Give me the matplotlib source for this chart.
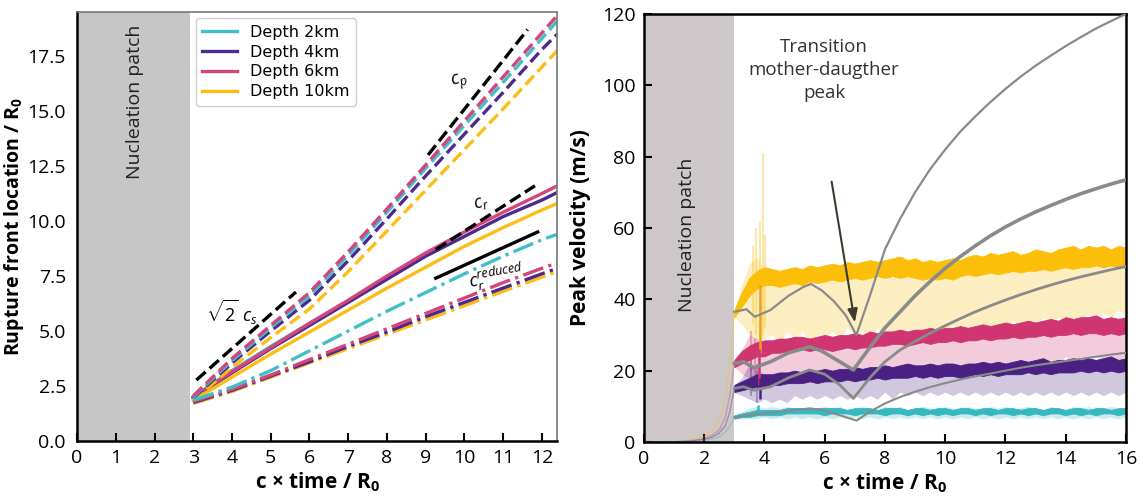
import numpy as np
import matplotlib
matplotlib.use("Agg")
import matplotlib.pyplot as plt

plt.rcParams['font.family'] = ['Open Sans', 'DejaVu Sans']
plt.rcParams['mathtext.fontset'] = 'custom'
plt.rcParams['mathtext.rm'] = 'Open Sans'
plt.rcParams['mathtext.it'] = 'Open Sans:italic'
plt.rcParams['mathtext.bf'] = 'Open Sans:bold'

# ---------------- Left panel data ----------------
depths = ["Depth 2km", "Depth 4km", "Depth 6km", "Depth 10km"]
x_front = [3, 4, 5, 6, 7, 8, 9, 10, 11, 12, 12.4]

# P-wave-like front (dashed)
cp_2km = [2.0, 3.65, 5.15, 6.6, 8.45, 10.4, 12.4, 14.35, 16.3, 18.3, 19.1]
cp_4km = [1.95, 3.55, 5.0, 6.4, 8.2, 10.1, 12.05, 13.95, 15.85, 17.8, 18.5]
cp_6km = [2.05, 3.75, 5.25, 6.75, 8.6, 10.55, 12.55, 14.55, 16.55, 18.55, 19.35]
cp_10km = [1.85, 3.35, 4.7, 6.0, 7.7, 9.55, 11.4, 13.25, 15.1, 17.0, 17.75]

# Rayleigh-like front (solid)
x_cr_2km = [3, 4, 5, 6, 7, 8]
cr_2km = [2.0, 3.2, 4.3, 5.35, 6.35, 7.4]
cr_4km = [1.95, 3.1, 4.2, 5.25, 6.3, 7.35, 8.4, 9.3, 10.2, 10.95, 11.3]
cr_6km = [2.0, 3.15, 4.25, 5.35, 6.4, 7.5, 8.55, 9.5, 10.4, 11.25, 11.6]
cr_10km = [1.85, 2.9, 3.95, 4.95, 5.95, 6.95, 7.9, 8.85, 9.7, 10.5, 10.8]

# reduced front (dash-dot)
red_2km = [1.85, 2.45, 3.2, 4.1, 5.0, 5.9, 6.75, 7.6, 8.4, 9.15, 9.4]
red_4km = [1.75, 2.3, 2.95, 3.6, 4.3, 4.95, 5.65, 6.3, 6.95, 7.6, 7.85]
red_6km = [1.8, 2.35, 3.0, 3.7, 4.4, 5.1, 5.8, 6.5, 7.2, 7.85, 8.1]
red_10km = [1.7, 2.25, 2.9, 3.55, 4.2, 4.85, 5.5, 6.15, 6.8, 7.45, 7.7]

# reference slopes (black)
ref_s2cs_x, ref_s2cs_y = [3.08, 5.65], [2.77, 6.77]
ref_cp_x, ref_cp_y = [9.06, 11.63], [13.0, 18.7]
ref_cr_x, ref_cr_y = [9.26, 11.82], [8.7, 11.6]
ref_red_x, ref_red_y = [9.26, 11.89], [7.4, 9.5]

# ---------------- Right panel data ----------------
x_band = np.arange(3.0, 16.001, 0.25)

yel_lo = [35, 38, 41, 43, 44, 44, 43.5, 44, 44.5, 44, 45, 44.5, 45,
          45.5, 45, 45.5, 46, 45.5, 46, 46.5, 46, 46.5, 46, 46.5, 46, 45.5,
          46, 45.5, 46, 45.5, 46.5, 47, 46.5, 47, 47.5, 47, 47.5, 48, 47.5,
          48, 48, 48.5, 48, 48.5, 49, 48.5, 49, 49, 49.5, 49, 49.5, 49, 49.5]
yel_hi = [37, 42, 46, 48, 49, 48.5, 48, 48.5, 49, 48.5, 49.5, 49, 49.5,
          50, 49.5, 50.5, 50, 50.5, 51, 50.5, 51, 51.5, 52, 51, 51.5, 50.5,
          51, 50.5, 51, 51.5, 51, 52, 52.5, 52, 53, 52.5, 53, 53.5, 52.5,
          53, 54, 53.5, 53, 54, 54.5, 55, 54, 55, 54.5, 55, 54, 55, 54.5]
pnk_lo = [21, 22, 23, 24, 24, 25, 25, 25.5, 25.5, 26, 25.5, 26, 26,
          25.5, 26, 26.5, 26, 26.5, 26.5, 27, 27, 27.5, 27.5, 27, 27.5, 28,
          27.5, 28, 28, 28.5, 28, 28.5, 28.5, 29, 28.5, 29, 29, 29.5, 29,
          29.5, 29.5, 30, 29.5, 30, 30, 30.5, 30, 30.5, 30.5, 30, 30.5, 30, 30.5]
pnk_hi = [23, 25.5, 27, 28, 28.5, 28.5, 29, 29, 29.5, 29.5, 29, 29.5, 30,
          29.5, 30, 30, 30.5, 30, 31, 30.5, 31, 31, 31.5, 31, 31.5, 31.5,
          32, 31.5, 32, 32, 32.5, 32, 32.5, 33, 32.5, 33, 33.5, 33, 33.5,
          34, 33.5, 34, 34.5, 34, 35, 34.5, 35, 35, 35.5, 34.5, 35, 34.5, 35]
pur_lo = [14, 14.5, 15, 15.5, 15.5, 16, 16, 16.5, 16.5, 16.5, 17, 16.5, 17,
          17, 17, 17.5, 17, 17.5, 17.5, 18, 17.5, 18, 18, 18, 18.5, 18,
          18.5, 18, 18.5, 18.5, 18, 18.5, 19, 18.5, 19, 18.5, 19, 19, 19,
          19.5, 19, 19.5, 19, 19.5, 19.5, 19.5, 20, 19.5, 20, 19.5, 20, 19.5, 20]
pur_hi = [16, 17, 18, 19, 19, 19, 19.5, 19.5, 20, 19.5, 20, 20, 20.5,
          20, 20.5, 20.5, 21, 20.5, 21, 21, 21.5, 21, 21.5, 22, 21.5, 21.5,
          22, 21.5, 22, 22, 21.5, 22, 22, 22.5, 22, 22.5, 22, 22.5, 23,
          22.5, 23, 23.5, 22.5, 23, 23, 23.5, 23, 23.5, 23, 23.5, 24, 23, 23.5]
cya_lo = [6.5, 7, 7, 7.5, 7.5, 7.5, 7.5, 8, 8, 8, 8, 8, 7.5,
          8, 8, 8, 7.5, 8, 8, 8, 7.5, 8, 8, 7.5, 8, 7.5,
          8, 7.5, 8, 7.5, 8, 8, 7.5, 8, 7.5, 8, 8, 7.5, 8,
          7.5, 8, 7.5, 8, 8, 7.5, 8, 7.5, 8, 7.5, 8, 8, 7.5, 8]
cya_hi = [7.5, 8, 8.5, 9, 9, 9, 9, 9.5, 9.5, 9.5, 9.5, 9.5, 9.5,
          9.5, 9.5, 9, 9.5, 9.5, 9.5, 9, 9.5, 9.5, 9.5, 9, 9.5, 9.5,
          9, 9.5, 9.5, 9, 9.5, 9.5, 9, 9.5, 9.5, 9, 9.5, 9.5, 9,
          9.5, 9.5, 9, 9.5, 9.5, 9, 9.5, 9.5, 9, 9.5, 9.5, 9, 9.5, 9.5]

# light (secondary) signals
lyel_lo = [35, 33, 30, 28, 29, 30, 28, 31, 29, 31, 28, 30, 29,
           31, 29, 32, 30, 31, 29, 32, 30, 31, 29, 32, 30, 31,
           29, 32, 30, 33, 31, 32, 30, 33, 31, 33, 31, 34, 32,
           34, 32, 35, 33, 35, 33, 35, 34, 36, 34, 36, 35, 37, 35]
lyel_hi = [37, 44, 50, 52, 48, 46, 45, 44, 46, 44, 45, 43, 46,
           45, 46, 45, 47, 46, 47, 46, 48, 46, 47, 48, 46, 48,
           47, 48, 47, 49, 47, 48, 49, 48, 50, 48, 49, 50, 49,
           51, 49, 50, 51, 50, 52, 50, 51, 52, 50, 52, 51, 53, 51]
lpnk_lo = [21, 19, 18, 17, 17, 16, 18, 16, 18, 17, 18, 17, 19,
           17, 19, 18, 19, 18, 20, 18, 20, 19, 20, 19, 21, 20,
           21, 20, 21, 20, 22, 20, 22, 21, 22, 21, 22, 21, 23,
           22, 23, 22, 23, 22, 24, 22, 24, 23, 24, 23, 24, 23, 24]
lpnk_hi = [23, 26, 30, 29, 27, 26, 27, 26, 27, 26, 28, 26, 27,
           28, 27, 28, 27, 28, 27, 29, 28, 29, 28, 30, 29, 28,
           30, 29, 30, 29, 30, 31, 30, 31, 30, 31, 31, 32, 31,
           32, 31, 33, 32, 33, 32, 33, 32, 34, 33, 34, 33, 35, 34]
lpur_lo = [14, 13, 12, 11, 12, 11, 12, 11, 13, 12, 13, 12, 13,
           12, 13, 12, 13, 12, 13, 12, 14, 12, 14, 13, 14, 13,
           14, 13, 14, 13, 14, 13, 14, 13, 14, 13, 14, 13, 14,
           13, 14, 13, 14, 13, 14, 13, 14, 13, 14, 13, 14, 13, 14]
lpur_hi = [16, 18, 22, 20, 19, 18, 19, 18, 19, 18, 19, 18, 19,
           18, 19, 18, 19, 19, 18, 19, 19, 19, 20, 19, 20, 19,
           20, 19, 20, 20, 19, 20, 20, 19, 20, 20, 19, 20, 20,
           19, 20, 20, 21, 20, 20, 21, 20, 21, 20, 21, 20, 21, 20]
lcya_lo = [6.5, 6.5, 6.5, 6.5, 7, 6.5, 7, 6.5, 7, 6.5, 7, 6.5, 7,
           6.5, 7, 6.5, 7, 6.5, 7, 6.5, 7, 6.5, 7, 6.5, 7, 6.5,
           7, 6.5, 7, 6.5, 7, 6.5, 7, 6.5, 7, 6.5, 7, 6.5, 7,
           6.5, 7, 6.5, 7, 6.5, 7, 6.5, 7, 6.5, 7, 6.5, 7, 6.5, 7]
lcya_hi = [7.5, 8.5, 9.5, 10, 9.5, 10, 9.5, 10, 9.5, 9, 10, 9.5, 10,
           9.5, 10, 9, 9.5, 10, 9.5, 9, 10, 9.5, 10, 9, 9.5, 10,
           9.5, 9, 10, 9.5, 9, 10, 9.5, 9, 10, 9.5, 10, 9, 9.5,
           10, 9.5, 9, 10, 9.5, 9, 10, 9.5, 10, 9, 9.5, 10, 9.5, 9.5]

# growth inside nucleation patch
x_nuc = [0, 1, 1.5, 2, 2.25, 2.5, 2.7, 2.85, 3.0]
nuc_yel = [0, 0.1, 0.5, 1.5, 3, 6, 12, 22, 36]
nuc_pnk = [0, 0.05, 0.3, 0.9, 1.8, 3.4, 7, 13, 22]
nuc_pur = [0, 0.05, 0.2, 0.7, 1.3, 2.5, 4.5, 8.5, 15]
nuc_cya = [0, 0.02, 0.1, 0.4, 0.8, 1.5, 2.8, 4.5, 7]

# spikes near x ~ 3.8
spk_lyel_x, spk_lyel_lo, spk_lyel_hi = [3.62, 3.72, 3.86, 3.96, 4.02], [33, 30, 28, 30, 32], [55, 60, 62, 81, 58]
spk_yel_x, spk_yel_lo, spk_yel_hi = [3.84], [25], [44]
spk_pnk_x, spk_pnk_lo, spk_pnk_hi = [3.83], [16], [26]
spk_lpnk_x, spk_lpnk_lo, spk_lpnk_hi = [3.55, 3.7], [20, 18], [31, 29]
spk_pur_x, spk_pur_lo, spk_pur_hi = [3.85], [12], [18]
spk_lpur_x, spk_lpur_lo, spk_lpur_hi = [3.55, 3.75], [13, 11], [24, 22]
spk_cya_x, spk_cya_lo, spk_cya_hi = [3.8], [8], [10.5]

# gray mother/daughter curves
g1_x = [3.0, 3.4, 3.68, 4.2, 4.8, 5.3, 5.55, 5.9, 6.3, 6.7, 7.05, 7.5, 8.0, 8.5, 9.0, 9.5,
        10.0, 10.5, 11.0, 11.5, 12.0, 12.5, 13.0, 13.5, 14.0, 14.5, 15.0, 15.5, 16.0]
g1_y = [36.5, 37.2, 35.1, 37, 41, 43.5, 44.3, 42.5, 39.5, 35.5, 30, 41, 54, 62.5, 70, 76.5,
        82, 87, 91.3, 95.3, 99, 102.4, 105.5, 108.3, 111, 113.5, 115.9, 118, 120]
g2_x = [3.0, 3.3, 3.65, 4.2, 4.8, 5.5, 5.9, 6.4, 6.95, 7.5, 8.0, 8.5, 9.0, 9.5, 10.0,
        10.5, 11.0, 11.5, 12.0, 12.5, 13.0, 13.5, 14.0, 14.5, 15.0, 15.5, 16.0]
g2_y = [22, 22.5, 20.8, 22.5, 25, 26.7, 25.5, 23, 20.2, 26.5, 32, 36.5, 41, 45, 48.7,
        52, 55, 57.8, 60.3, 62.5, 64.5, 66.3, 68, 69.6, 71, 72.3, 73.5]
g3_x = [3.0, 3.3, 3.65, 4.2, 4.8, 5.5, 6.0, 6.5, 6.95, 7.5, 8.0, 8.5, 9.0, 9.5, 10.0,
        10.5, 11.0, 11.5, 12.0, 12.5, 13.0, 13.5, 14.0, 14.5, 15.0, 15.5, 16.0]
g3_y = [15, 15.5, 14.5, 15.5, 18, 20.2, 19, 16, 12.2, 18, 22.5, 25.8, 28.2, 30.5, 32.6,
        34.6, 36.5, 38.2, 39.8, 41.3, 42.7, 44, 45.2, 46.3, 47.3, 48.3, 49.2]
g4_x = [3.0, 3.5, 4.0, 4.5, 5.0, 5.5, 6.0, 6.5, 7.06, 7.5, 8.0, 8.5, 9.0, 9.5, 10.0,
        10.5, 11.0, 11.5, 12.0, 12.5, 13.0, 13.5, 14.0, 14.5, 15.0, 15.5, 16.0]
g4_y = [7, 7.5, 8, 8.5, 9, 9.4, 8.8, 7.5, 6.0, 8.5, 10.8, 12.6, 14.1, 15.4, 16.5,
        17.5, 18.4, 19.2, 20.0, 20.8, 21.5, 22.1, 22.7, 23.3, 23.9, 24.5, 25]

# ---------------- Styles ----------------
C_CYA = '#3fbfca'
C_PUR = '#4b2a8c'
C_PNK = '#d4457c'
C_YEL = '#fcbd17'
R_CYA = '#36b8c2'
R_PUR = '#4a2183'
R_PNK = '#cf3570'
R_YEL = '#fbbf0a'
GRAY = '#8a8a8a'

fig = plt.figure(figsize=(11.43, 4.97), dpi=100)
axL = fig.add_axes([0.0674, 0.1127, 0.4203, 0.8632])
axR = fig.add_axes([0.5634, 0.1107, 0.4217, 0.8612])

# ---------- Left ----------
axL.axvspan(0, 2.92, color='#c6c6c6', lw=0, zorder=0)
axL.text(1.5, 15.4, 'Nucleation patch', rotation=90, ha='center', va='center',
         fontsize=14, color='#222222')

lw = 2.4
axL.plot(x_cr_2km, cr_2km, color=C_CYA, lw=lw, label=depths[0])
axL.plot(x_front, cr_4km, color=C_PUR, lw=lw, label=depths[1])
axL.plot(x_front, cr_6km, color=C_PNK, lw=lw, label=depths[2])
axL.plot(x_front, cr_10km, color=C_YEL, lw=lw, label=depths[3])

for ys, c in [(cp_10km, C_YEL), (cp_4km, C_PUR), (cp_2km, C_CYA), (cp_6km, C_PNK)]:
    axL.plot(x_front, ys, color=c, lw=lw, ls='--')
for ys, c in [(red_10km, C_YEL), (red_4km, C_PUR), (red_6km, C_PNK), (red_2km, C_CYA)]:
    axL.plot(x_front, ys, color=c, lw=lw, ls='-.')

axL.plot(ref_s2cs_x, ref_s2cs_y, color='black', lw=2.4, ls='--')
axL.plot(ref_cp_x, ref_cp_y, color='black', lw=2.4, ls='--')
axL.plot(ref_cr_x, ref_cr_y, color='black', lw=2.4, ls='--')
axL.plot(ref_red_x, ref_red_y, color='black', lw=2.4, ls='-')

axL.text(3.98, 5.86, r'$\sqrt{2}\ c_s$', fontsize=13, ha='center', va='center')
axL.text(9.87, 16.3, r'$c_p$', fontsize=13, ha='center', va='center', rotation=15)
axL.text(10.43, 10.8, r'$c_r$', fontsize=13, ha='center', va='center', rotation=15)
axL.text(10.05, 7.45, r'$c_r^{reduced}$', fontsize=13, ha='left', va='center', rotation=10)

axL.set_xlim(0, 12.4)
axL.set_ylim(0, 19.5)
axL.set_xticks(range(0, 13))
axL.set_yticks([0, 2.5, 5, 7.5, 10, 12.5, 15, 17.5])
axL.set_yticklabels(['0.0', '2.5', '5.0', '7.5', '10.0', '12.5', '15.0', '17.5'])
axL.tick_params(axis='x', direction='in', length=6, width=1.5, labelsize=14, pad=6)
axL.tick_params(axis='y', length=0, labelsize=14, pad=8)
for s in ['left', 'bottom']:
    axL.spines[s].set_linewidth(1.8)
    axL.spines[s].set_color('black')
for s in ['top', 'right']:
    axL.spines[s].set_linewidth(1.2)
    axL.spines[s].set_color('#777777')
axL.set_xlabel(r'c $\mathbf{\times}$ time / $\mathbf{R_0}$', fontsize=15, fontweight='bold', labelpad=2)
axL.set_ylabel(r'Rupture front location / $\mathbf{R_0}$', fontsize=14, fontweight='bold', labelpad=1)
leg = axL.legend(loc='upper left', bbox_to_anchor=(0.247, 0.985), borderaxespad=0,
                 prop={'family': 'DejaVu Sans', 'size': 11.5}, handlelength=2.2,
                 labelspacing=0.3, framealpha=1, edgecolor='#cccccc', fancybox=True)

# ---------- Right ----------
axR.axvspan(0, 3.0, color='#cdc7ca', lw=0, zorder=0)
axR.text(1.43, 58, 'Nucleation patch', rotation=90, ha='center', va='center',
         fontsize=14, color='#222222')

for xs, ys, c in [(x_nuc, nuc_yel, R_YEL), (x_nuc, nuc_pnk, R_PNK),
                  (x_nuc, nuc_pur, R_PUR), (x_nuc, nuc_cya, R_CYA)]:
    axR.plot(xs, ys, color=c, lw=1.0, alpha=0.35)

for lo, hi, c in [(lyel_lo, lyel_hi, R_YEL), (lpnk_lo, lpnk_hi, R_PNK),
                  (lpur_lo, lpur_hi, R_PUR), (lcya_lo, lcya_hi, R_CYA)]:
    axR.fill_between(x_band, lo, hi, color=c, alpha=0.25, lw=0)

for xs, lo, hi, c in [(spk_lyel_x, spk_lyel_lo, spk_lyel_hi, R_YEL),
                      (spk_lpnk_x, spk_lpnk_lo, spk_lpnk_hi, R_PNK),
                      (spk_lpur_x, spk_lpur_lo, spk_lpur_hi, R_PUR)]:
    axR.vlines(xs, lo, hi, color=c, alpha=0.35, lw=1.5)

for xs, ys, w in [(g1_x, g1_y, 1.6), (g2_x, g2_y, 2.6), (g3_x, g3_y, 2.0), (g4_x, g4_y, 1.5)]:
    axR.plot(xs, ys, color=GRAY, lw=w, zorder=3)

for lo, hi, c in [(yel_lo, yel_hi, R_YEL), (pnk_lo, pnk_hi, R_PNK),
                  (pur_lo, pur_hi, R_PUR), (cya_lo, cya_hi, R_CYA)]:
    axR.fill_between(x_band, lo, hi, color=c, lw=0.6, edgecolor=c, zorder=2.5)

axR.vlines(spk_yel_x, spk_yel_lo, spk_yel_hi, color='#f0a020', lw=1.8, zorder=2.6)
axR.vlines(spk_pnk_x, spk_pnk_lo, spk_pnk_hi, color=R_PNK, lw=1.8, zorder=2.6)
axR.vlines(spk_pur_x, spk_pur_lo, spk_pur_hi, color=R_PUR, lw=1.8, zorder=2.6)
axR.vlines(spk_cya_x, spk_cya_lo, spk_cya_hi, color=R_CYA, lw=1.8, zorder=2.6)

axR.text(5.98, 104.3, 'Transition\nmother-daugther\npeak', ha='center', va='center',
         fontsize=13.5, color='#333333', linespacing=1.35)
axR.annotate('', xy=(7.0, 33.5), xytext=(6.23, 73),
             arrowprops=dict(arrowstyle='-|>,head_length=0.8,head_width=0.3',
                             color='#3b3b2e', lw=1.5, shrinkA=0, shrinkB=0), zorder=5)

axR.set_xlim(0, 16)
axR.set_ylim(0, 120)
axR.set_xticks(range(0, 17, 2))
axR.set_yticks(range(0, 121, 20))
axR.tick_params(direction='in', length=6, width=1.5, labelsize=14, pad=6)
for s in axR.spines.values():
    s.set_linewidth(1.8)
    s.set_color('black')
axR.set_xlabel(r'c $\mathbf{\times}$ time / $\mathbf{R_0}$', fontsize=15, fontweight='bold', labelpad=2)
axR.set_ylabel('Peak velocity (m/s)', fontsize=15, fontweight='bold', labelpad=8)

fig.savefig('out.png', dpi=100)
